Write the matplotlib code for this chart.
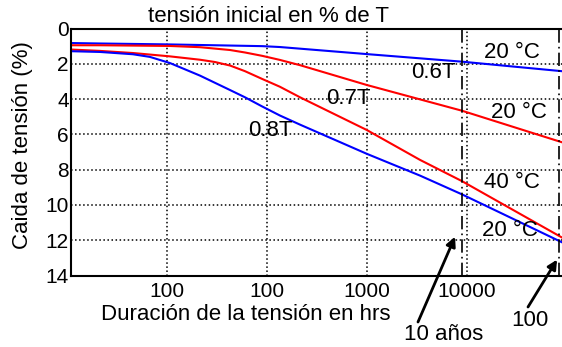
import matplotlib
matplotlib.use("Agg")
import matplotlib.pyplot as plt

plt.rcParams['font.family'] = ['Liberation Sans', 'DejaVu Sans']

# curvas de relajacion (horas, caida %)
horas_06_azul = [1, 2.16, 10, 90, 135, 995, 8900, 89000]
caida_06_azul = [0.82, 0.85, 0.9, 1.0, 1.05, 1.45, 1.88, 2.42]

horas_06_rojo = [1, 2.16, 10.8, 21.5, 43, 60.6, 90, 135, 215, 995, 8900,
                 89000]
caida_06_rojo = [0.95, 0.95, 0.99, 1.06, 1.22, 1.36, 1.55, 1.78, 2.08, 3.2,
                 4.66, 6.45]

horas_07 = [1, 2.16, 4.6, 10.8, 21.5, 30.4, 43, 60.6, 90, 135, 215, 995,
            3400, 8900, 89000]
caida_07 = [1.18, 1.27, 1.39, 1.58, 1.77, 1.9, 2.1, 2.42, 2.86, 3.3, 3.9,
            5.75, 7.45, 8.65, 11.85]

horas_08 = [1, 2.16, 4.6, 6.8, 10.8, 21.5, 43, 60.6, 90, 135, 215, 995, 3400,
            8900, 89000]
caida_08 = [1.28, 1.33, 1.46, 1.61, 1.96, 2.67, 3.49, 3.9, 4.42, 4.93, 5.45,
            7.1, 8.34, 9.4, 12.12]

# 10 años y 100 años (marcas verticales)
horas_marcas = [8900, 83000]

xticks = [10, 100, 1000, 10000]
xtick_labels = ['100', '100', '1000', '10000']
yticks = [0, 2, 4, 6, 8, 10, 12, 14]

fig = plt.figure(figsize=(5.62, 3.47), dpi=100)
ax = fig.add_axes([71 / 562, 1 - 275.5 / 347, 491 / 562, 247 / 347])

ax.plot(horas_06_azul, caida_06_azul, color='#0000ff', lw=1.5)
ax.plot(horas_06_rojo, caida_06_rojo, color='#ff0000', lw=1.5)
ax.plot(horas_07, caida_07, color='#ff0000', lw=1.5)
ax.plot(horas_08, caida_08, color='#0000ff', lw=1.5)

for h in horas_marcas:
    ax.axvline(h, color='black', lw=1.2, linestyle=(0, (8, 2.5, 1, 2.5)))

ax.set_xscale('log')
ax.set_xlim(1.107, 88900)
ax.set_ylim(14, 0)
ax.set_xticks(xticks)
ax.set_xticklabels(xtick_labels)
ax.minorticks_off()
ax.set_yticks(yticks)
ax.tick_params(axis='both', length=0, labelsize=15)
ax.tick_params(axis='y', pad=1.5)
ax.tick_params(axis='x', pad=5)
ax.grid(True, linestyle=':', color='black', lw=1.1)

for s in ['left', 'top', 'bottom']:
    ax.spines[s].set_linewidth(1.5)
ax.spines['right'].set_visible(False)

# etiquetas de las curvas
ax.text(270 / 562, 1 - 131 / 347, '0.8T', transform=fig.transFigure,
        fontsize=16, ha='center', va='center')
ax.text(348 / 562, 1 - 98.5 / 347, '0.7T', transform=fig.transFigure,
        fontsize=16, ha='center', va='center')
ax.text(433 / 562, 1 - 72 / 347, '0.6T', transform=fig.transFigure,
        fontsize=16, ha='center', va='center')
ax.text(512 / 562, 1 - 52 / 347, '20 °C', transform=fig.transFigure,
        fontsize=16, ha='center', va='center')
ax.text(519 / 562, 1 - 112 / 347, '20 °C', transform=fig.transFigure,
        fontsize=16, ha='center', va='center')
ax.text(512 / 562, 1 - 183 / 347, '40 °C', transform=fig.transFigure,
        fontsize=16, ha='center', va='center')
ax.text(510 / 562, 1 - 230 / 347, '20 °C', transform=fig.transFigure,
        fontsize=16, ha='center', va='center')

fig.text(268 / 562, 1 - 17 / 347, 'tensión inicial en % de T',
         fontsize=16, ha='center', va='center')
fig.text(246 / 562, 1 - 315 / 347, 'Duración de la tensión en hrs',
         fontsize=16, ha='center', va='center')
fig.text(23 / 562, 1 - 145 / 347, 'Caida de tensión (%)', rotation=90,
         fontsize=16, ha='center', va='center')

# flechas
ax.annotate('', xy=(7600, 11.8), xycoords='data',
            xytext=(418 / 562, 1 - 322 / 347), textcoords='figure fraction',
            arrowprops=dict(arrowstyle='-|>', color='black', lw=2,
                            mutation_scale=14, shrinkA=0, shrinkB=0),
            annotation_clip=False)
ax.annotate('', xy=(79400, 13.1), xycoords='data',
            xytext=(528 / 562, 1 - 307 / 347), textcoords='figure fraction',
            arrowprops=dict(arrowstyle='-|>', color='black', lw=2,
                            mutation_scale=14, shrinkA=0, shrinkB=0),
            annotation_clip=False)
fig.text(444 / 562, 1 - 335 / 347, '10 años', fontsize=16,
         ha='center', va='center')
fig.text(530 / 562, 1 - 321 / 347, '100', fontsize=16,
         ha='center', va='center')

fig.savefig('out.png', dpi=100)
